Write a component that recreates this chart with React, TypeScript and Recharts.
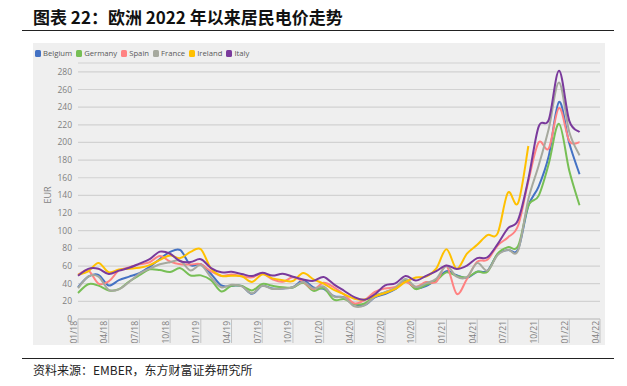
import React from 'react';
import { LineChart, Line, XAxis, YAxis, CartesianGrid } from 'recharts';

const months = [
  '2018-01','2018-02','2018-03','2018-04','2018-05','2018-06','2018-07','2018-08','2018-09','2018-10','2018-11','2018-12',
  '2019-01','2019-02','2019-03','2019-04','2019-05','2019-06','2019-07','2019-08','2019-09','2019-10','2019-11','2019-12',
  '2020-01','2020-02','2020-03','2020-04','2020-05','2020-06','2020-07','2020-08','2020-09','2020-10','2020-11','2020-12',
  '2021-01','2021-02','2021-03','2021-04','2021-05','2021-06','2021-07','2021-08','2021-09','2021-10','2021-11','2021-12',
  '2022-01','2022-02',
];

const tickLabels = ['01/18','04/18','07/18','10/18','01/19','04/19','07/19','10/19','01/20','04/20','07/20','10/20','01/21','04/21','07/21','10/21','01/22','04/22'];
const yTicks = [0, 20, 40, 60, 80, 100, 120, 140, 160, 180, 200, 220, 240, 260, 280];

const countries = ['Belgium', 'Germany', 'Spain', 'France', 'Ireland', 'Italy'];
const colors = ['#4472C4', '#77BF55', '#FF8282', '#A6A99E', '#FFC000', '#7A3A9C'];

const belgium = [
  36, 48, 50, 38, 44, 48, 52, 59, 68, 76, 78, 61,
  62, 51, 38, 37.5, 37.5, 28.5, 37.6, 34.5, 34.6, 36, 43.8, 35.7,
  34.1, 25.9, 24.5, 17.0, 15.8, 24.5, 28.2, 33.7, 42.4, 35.0, 37.3, 44.4,
  54.2, 49.5, 46.6, 53.5, 54.6, 73.4, 78.2, 79.0, 128, 150, 185, 246,
  199, 164,
];
const germany = [
  29.5, 39.4, 37.8, 32.4, 33.8, 42.5, 49.6, 56.2, 55.4, 53.2, 57.6, 49.3,
  49.4, 44.0, 31.2, 37.7, 37.5, 32.4, 39.7, 37.6, 35.9, 35.6, 41.1, 31.9,
  35.0, 21.9, 22.5, 17.1, 17.6, 26.2, 30.1, 34.7, 43.6, 33.9, 38.8, 43.5,
  52.8, 48.7, 47.2, 53.6, 53.5, 74.1, 81.4, 82.7, 128.4, 139.5, 176.2, 221.1,
  167.9, 128.8,
];
const spain = [
  50.0, 54.9, 40.2, 42.7, 54.9, 58.5, 61.9, 64.3, 71.3, 65.1, 62.0, 61.8,
  62.0, 54.0, 48.8, 50.4, 48.4, 47.2, 51.5, 45.0, 42.1, 47.2, 42.2, 33.8,
  41.1, 35.9, 27.7, 17.7, 21.3, 30.6, 34.6, 36.2, 42.0, 36.6, 41.9, 42.0,
  60.2, 28.5, 45.4, 65.0, 67.1, 83.3, 92.4, 105.9, 156.1, 199.9, 193.4, 239.2,
  201.7, 200.2,
];
const france = [
  35.0, 48.0, 48.0, 33.0, 33.6, 42.0, 51.5, 57.0, 62.0, 64.4, 66.0, 55.0,
  61.0, 47.0, 36.0, 38.7, 37.0, 29.0, 37.6, 34.0, 34.5, 36.0, 42.0, 34.5,
  36.8, 25.4, 24.5, 14.5, 15.5, 25.0, 30.5, 35.3, 45.3, 36.3, 40.4, 45.6,
  59.9, 47.9, 47.4, 63.3, 54.9, 72.4, 78.3, 77.8, 135.7, 173.6, 215.9, 268,
  211.8, 185.3,
];
const ireland = [
  50, 54, 63.5, 53, 56, 57, 58, 61, 67, 72, 69, 76,
  79, 57, 49, 49, 48.5, 42, 50.5, 46, 44, 43, 52, 45,
  40, 33, 28, 23, 22, 26, 29.5, 34, 42, 47, 48, 57,
  79, 57, 74, 84, 95, 97, 143, 131.5, 196,
];
const italy = [
  49.0, 56.8, 56.9, 50.9, 54.8, 58.0, 62.7, 67.7, 76.3, 73.9, 65.4, 64.5,
  67.7, 57.7, 52.9, 53.4, 51.0, 48.6, 52.3, 49.2, 51.2, 47.9, 44.8, 43.2,
  47.5, 39.3, 32.0, 24.8, 21.8, 28.0, 38.0, 40.3, 48.8, 43.6, 48.8, 54.3,
  60.7, 56.6, 60.4, 69.0, 69.9, 84.8, 102.7, 112.4, 158.6, 217.6, 225.9, 281.2,
  224.5, 211.7,
];

const seriesValues = [belgium, germany, spain, france, ireland, italy];

const data = months.map((m, i) => {
  const row: any = { idx: i, month: m };
  countries.forEach((c, k) => {
    const v = seriesValues[k][i];
    row[c] = v === undefined ? null : v;
  });
  return row;
});

// Excel-like smoothed line (Catmull-Rom through the points)
const excelCurve = (context: any) => {
  let pts: number[][] = [];
  return {
    areaStart() {},
    areaEnd() {},
    lineStart() { pts = []; },
    point(x: number, y: number) { pts.push([+x, +y]); },
    lineEnd() {
      const n = pts.length;
      if (!n) return;
      context.moveTo(pts[0][0], pts[0][1]);
      if (n === 1) return;
      const t = 1 / 6;
      for (let i = 0; i < n - 1; i++) {
        const p0 = pts[i - 1] || pts[i];
        const p1 = pts[i];
        const p2 = pts[i + 1];
        const p3 = pts[i + 2] || p2;
        context.bezierCurveTo(
          p1[0] + (p2[0] - p0[0]) * t, p1[1] + (p2[1] - p0[1]) * t,
          p2[0] - (p3[0] - p1[0]) * t, p2[1] - (p3[1] - p1[1]) * t,
          p2[0], p2[1]
        );
      }
    },
  };
};

const XTick = (props: any) => {
  const { x, y, payload } = props;
  const label = tickLabels[Math.round(payload.value / 3)];
  return (
    <g>
      <line x1={x} y1={y} x2={x} y2={y + 24} stroke="#c4c4c4" strokeWidth={1} />
      <text
        transform={`translate(${x - 5},${y + 2}) rotate(-90)`}
        textAnchor="end"
        dominantBaseline="central"
        fontSize={8.5}
        fill="#7f7f7f"
        fontFamily="'Open Sans', sans-serif"
      >
        {label}
      </text>
    </g>
  );
};

export default function App() {
  return (
    <div style={{ position: 'absolute', left: 0, top: 0, width: 627, height: 386, background: '#fff', overflow: 'hidden' }}>
      <div style={{ position: 'absolute', left: 33, top: 43, width: 572, height: 302, background: '#efefef' }} />
      <div style={{ position: 'absolute', left: 0, top: 0 }}>
        <LineChart width={627} height={386} data={data} margin={{ top: 63, right: 27, bottom: 37, left: 38 }}>
          <CartesianGrid vertical={false} stroke="#d2d2d2" strokeWidth={1.2} />
          <XAxis
            dataKey="idx"
            type="number"
            domain={[0, 51]}
            ticks={tickLabels.map((_, k) => k * 3)}
            interval={0}
            tickLine={false}
            tickSize={0}
            tickMargin={0}
            axisLine={{ stroke: '#c4c4c4' }}
            tick={<XTick />}
            height={30}
          />
          <YAxis
            type="number"
            domain={[0, 290]}
            ticks={yTicks}
            interval={0}
            tickLine={false}
            axisLine={false}
            tickSize={0}
            tickMargin={6}
            width={40}
            tick={{ fill: '#7f7f7f', fontSize: 8.5, fontFamily: "'Open Sans', sans-serif" }}
          />
          {countries.map((c, k) => (
            <Line
              key={c}
              type={excelCurve as any}
              dataKey={c}
              stroke={colors[k]}
              strokeWidth={2}
              dot={false}
              activeDot={false}
              connectNulls={false}
              isAnimationActive={false}
            />
          ))}
        </LineChart>
      </div>
      <svg width={627} height={386} style={{ position: 'absolute', left: 0, top: 0, pointerEvents: 'none' }}>
        <text x={33} y={24} fontSize={17} fontWeight="bold" fill="#111" fontFamily="'Noto Sans CJK SC', sans-serif">
          图表 22：欧洲 2022 年以来居民电价走势
        </text>
        <line x1={22} y1={30.5} x2={614} y2={30.5} stroke="#222" strokeWidth={1.2} />
        <text
          transform="translate(47,195) rotate(-90)"
          textAnchor="middle"
          dominantBaseline="central"
          fontSize={9}
          fill="#7f7f7f"
          fontFamily="'Open Sans', sans-serif"
        >
          EUR
        </text>
        <line x1={22} y1={358.5} x2={614} y2={358.5} stroke="#222" strokeWidth={1.2} />
        <text x={33} y={375} fontSize={12} fill="#222" fontFamily="'Noto Sans CJK SC', sans-serif">
          资料来源：EMBER，东方财富证券研究所
        </text>
      </svg>
      <div style={{ position: 'absolute', left: 35, top: 48, display: 'flex', alignItems: 'center', fontFamily: "'Open Sans', sans-serif", fontSize: 7.7, color: '#595959', lineHeight: '10px' }}>
        {countries.map((c, k) => (
          <div key={c} style={{ display: 'flex', alignItems: 'center', marginRight: 4 }}>
            <div style={{ width: 6, height: 7, borderRadius: 1.5, background: colors[k], marginRight: 2 }} />
            <span>{c}</span>
          </div>
        ))}
      </div>
    </div>
  );
}
